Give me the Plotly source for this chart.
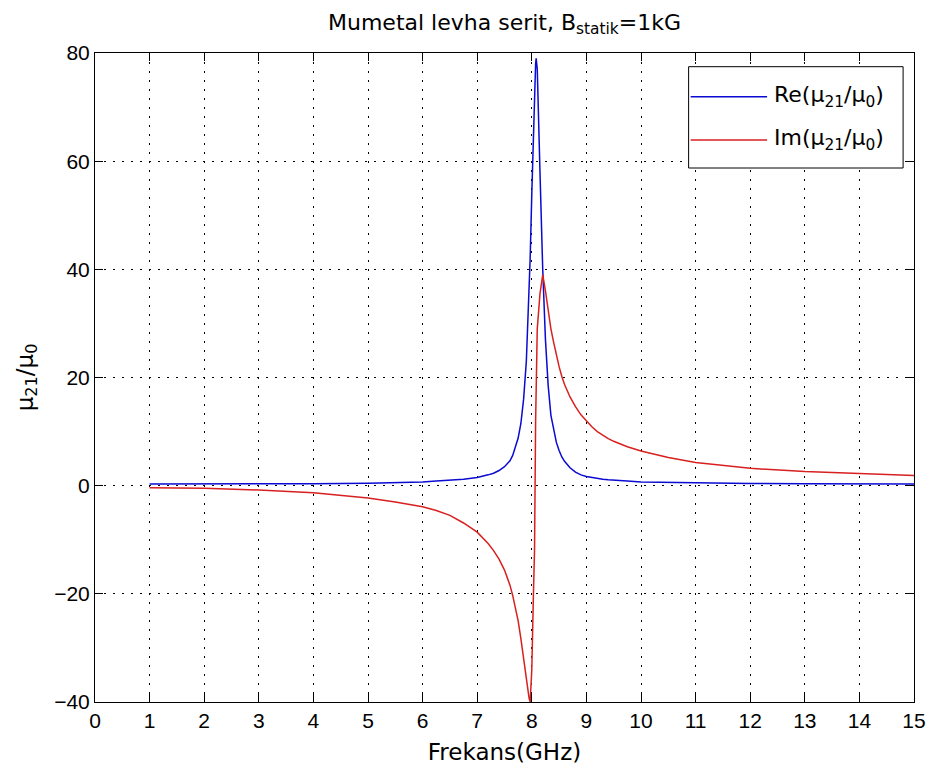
import plotly.graph_objects as go

# Frequency samples (GHz) and the two components of mu21/mu0
freq_ghz = [1, 2, 3, 4, 5, 5.5, 6, 6.25, 6.5, 6.75, 7.0, 7.1, 7.2, 7.3, 7.4, 7.5,
            7.6, 7.65, 7.7, 7.75, 7.8, 7.85, 7.9, 7.95, 7.97, 8.0, 8.03, 8.05,
            8.07, 8.08, 8.1, 8.15, 8.2, 8.25, 8.3, 8.35, 8.4, 8.45, 8.5, 8.55,
            8.6, 8.7, 8.8, 8.9, 9.0, 9.1, 9.2, 9.3, 9.4, 9.5, 9.75, 10, 10.5,
            11, 11.5, 12, 13, 14, 15]

re_mu = [0.3, 0.3, 0.3, 0.35, 0.45, 0.55, 0.7, 0.85, 1.0, 1.2, 1.5, 1.7, 2.0,
         2.3, 2.8, 3.5, 4.6, 5.6, 7.0, 8.8, 11.5, 16, 23, 35, 42, 54, 66, 73,
         78, 79, 77, 58, 40, 27, 18.5, 13, 10.5, 8.0, 6.5, 5.3, 4.5, 3.3, 2.5,
         2.0, 1.7, 1.5, 1.3, 1.2, 1.1, 1.0, 0.85, 0.7, 0.6, 0.5, 0.45, 0.4,
         0.35, 0.3, 0.3]

im_mu = [-0.4, -0.5, -0.8, -1.3, -2.3, -3.0, -3.9, -4.6, -5.5, -6.9, -8.6,
         -9.6, -10.7, -12.0, -13.6, -15.6, -18.4, -20.3, -22.5, -25, -28.3,
         -32, -36, -39.3, -40, -34, -20, -12, 12, 19, 29, 35.5, 39, 36, 32.5,
         29, 26.5, 24, 22, 20.2, 18.7, 16.4, 14.6, 13.1, 11.9, 10.9, 10.0,
         9.3, 8.7, 8.2, 7.2, 6.4, 5.2, 4.3, 3.7, 3.2, 2.6, 2.2, 1.9]

x_ticks = list(range(0, 16))
y_ticks = [-40, -20, 0, 20, 40, 60, 80]

series_names = ["Re(μ<sub>21</sub>/μ<sub>0</sub>)", "Im(μ<sub>21</sub>/μ<sub>0</sub>)"]
series_colors = ["#0a0ad2", "#d82020"]

TICK_FONT = "Liberation Sans, Arial, Helvetica, sans-serif"
TEXT_FONT = "DejaVu Sans, Liberation Sans, Arial, sans-serif"

fig = go.Figure()
for name, ys, color in zip(series_names, [re_mu, im_mu], series_colors):
    fig.add_trace(go.Scatter(x=freq_ghz, y=ys, mode="lines", name=name,
                             line=dict(color=color, width=1.5),
                             showlegend=False))

axis_common = dict(
    ticks="inside", ticklen=8, tickwidth=1, tickcolor="black",
    showline=True, linecolor="black", linewidth=1, mirror="ticks",
    showgrid=True, gridcolor="black", gridwidth=1, griddash="2px,7px",
    zeroline=False, tickfont=dict(family=TICK_FONT, size=21, color="black"),
)

fig.update_xaxes(range=[0, 15], tickvals=x_ticks,
                 title=dict(text="Frekans(GHz)",
                            font=dict(family=TEXT_FONT, size=23, color="black"),
                            standoff=12),
                 **axis_common)
fig.update_yaxes(range=[-40, 80], tickvals=y_ticks,
                 title=dict(text="μ<sub>21</sub>/μ<sub>0</sub>",
                            font=dict(family=TEXT_FONT, size=23, color="black"),
                            standoff=14),
                 **axis_common)

# Boxed legend in the upper-right corner of the axes
legend_rows = [0.9327, 0.866]
fig.add_shape(type="rect", xref="paper", yref="paper",
              x0=0.7248, x1=0.9867, y0=0.8228, y1=0.9789,
              line=dict(color="black", width=1), fillcolor="white", layer="above")
for name, color, yrow in zip(series_names, series_colors, legend_rows):
    fig.add_shape(type="line", xref="paper", yref="paper",
                  x0=0.7273, x1=0.8206, y0=yrow, y1=yrow,
                  line=dict(color=color, width=1.5), layer="above")
    fig.add_annotation(xref="paper", yref="paper", x=0.8267, y=yrow,
                       xanchor="left", yanchor="middle", showarrow=False,
                       text=name, font=dict(family=TEXT_FONT, size=22, color="black"))

fig.update_layout(
    width=938, height=773,
    margin=dict(l=95, r=18, t=53, b=71),
    paper_bgcolor="white", plot_bgcolor="white",
    font=dict(family=TEXT_FONT, color="black"),
    title=dict(text="Mumetal levha serit, B<sub>statik</sub>=1kG",
               x=0.5, xref="paper", xanchor="center",
               y=1 - 22 / 773, yref="container", yanchor="middle",
               font=dict(family=TEXT_FONT, size=22, color="black")),
)

fig.write_html("out.html")
